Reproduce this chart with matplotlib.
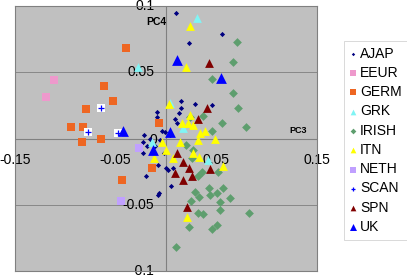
import matplotlib
matplotlib.use("Agg")
import matplotlib.pyplot as plt

# ---- data (PC3, PC4) ----
ajap_x = [0.010, 0.056, 0.023, 0.015, 0.015, 0.029, 0.046, -0.009, -0.009, 0.009, 0.013, 0.011, -0.004, -0.022,
          -0.023, -0.019, -0.023, -0.008, -0.020, 0.000, 0.002, 0.007, 0.005, -0.007, -0.008, -0.002, -0.013,
          -0.001, -0.016, 0.004, -0.011, -0.006]
ajap_y = [0.095, 0.079, 0.072, 0.028, 0.023, 0.026, 0.025, 0.020, 0.016, 0.015, 0.019, 0.012, 0.006, 0.003,
          -0.003, -0.006, -0.011, -0.020, -0.028, -0.022, -0.024, -0.022, -0.036, -0.041, -0.043, -0.011, -0.010,
          0.005, 0.000, 0.003, -0.006, -0.001]
eeur_x = [-0.111, -0.119]
eeur_y = [0.044, 0.031]
germ_x = [-0.040, -0.062, -0.053, -0.079, -0.094, -0.082, -0.083, -0.065, -0.044, -0.007, -0.014]
germ_y = [0.068, 0.040, 0.028, 0.022, 0.009, 0.009, -0.003, 0.000, -0.031, 0.012, -0.022]
grk_x = [0.031, -0.028, 0.004, 0.017, 0.042, -0.014]
grk_y = [0.091, 0.054, 0.027, 0.008, -0.016, -0.003]
irish_x = [0.071, 0.067, 0.046, 0.067, 0.072, 0.037, 0.056, 0.079, 0.046, 0.024, 0.020, 0.027, 0.026, 0.032,
           0.036, 0.052, 0.043, 0.057, 0.051, 0.064, 0.029, 0.033, 0.025, 0.044, 0.054, 0.054, 0.032, 0.037,
           0.082, 0.023, 0.046, 0.051, 0.010]
irish_y = [0.073, 0.058, 0.045, 0.034, 0.023, 0.017, 0.012, 0.009, 0.006, 0.016, -0.005, -0.009, -0.015, -0.028,
           -0.025, -0.025, -0.037, -0.037, -0.041, -0.045, -0.040, -0.044, -0.047, -0.043, -0.048, -0.054, -0.056,
           -0.057, -0.056, -0.067, -0.068, -0.065, -0.082]
itn_x = [0.024, 0.020, 0.003, 0.016, 0.024, 0.022, 0.027, 0.039, 0.034, 0.049, -0.004, 0.014, 0.032, 0.000,
         -0.012, 0.007, 0.027, 0.033, 0.057, 0.021]
itn_y = [0.085, 0.054, 0.026, 0.012, 0.018, 0.012, 0.010, 0.006, 0.004, 0.000, -0.003, -0.003, -0.001, -0.009,
         -0.015, -0.015, -0.011, -0.014, -0.021, -0.059]
neth_x = [-0.027, -0.045]
neth_y = [-0.007, -0.047]
scan_x = [-0.065, -0.077, -0.048]
scan_y = [0.023, 0.005, 0.004]
spn_x = [0.043, 0.041, 0.032, 0.011, 0.017, 0.023, 0.009, 0.017, 0.026, 0.044, 0.021]
spn_y = [0.057, 0.023, 0.015, -0.011, -0.018, -0.022, -0.026, -0.031, -0.028, -0.023, -0.052]
uk_x = [0.011, 0.055, -0.043, 0.004, -0.013]
uk_y = [0.059, 0.046, 0.006, 0.005, -0.009]

x_ticks = [-0.15, -0.05, 0.05, 0.15]
x_tick_labels = ["-0.15", "-0.05", "0.05", "0.15"]
y_ticks = [0.1, 0.05, -0.05, -0.1]
y_tick_labels = ["0.1", "0.05", "-0.05", "-0.1"]

W, H = 407, 277
fig = plt.figure(figsize=(W / 100, H / 100), dpi=100)
fig.patch.set_facecolor("white")
plt.rcParams['font.family'] = ['Liberation Sans', 'DejaVu Sans']

ax = fig.add_axes([15 / W, 6 / H, 302 / W, 265 / H])
ax.set_facecolor("#C0C0C0")
ax.set_xlim(-0.15, 0.15)
ax.set_ylim(-0.1, 0.1)
ax.set_xticks([])
ax.set_yticks([])
for s in ax.spines.values():
    s.set_color("#808080")
    s.set_linewidth(0.8)

for yv in [0.05, -0.05]:
    ax.axhline(yv, color="#888888", lw=0.7, zorder=1)
ax.axhline(0, color="#808080", lw=0.8, zorder=1)
ax.axvline(0, color="#808080", lw=0.8, zorder=1)

fs = 10
for xv, lab in zip(x_ticks, x_tick_labels):
    ax.text(xv, -0.0165, lab, ha="center", va="center", fontsize=fs, color="black", clip_on=False, zorder=1.5)
for yv, lab in zip(y_ticks, y_tick_labels):
    ax.text(-0.0115, yv, lab, ha="right", va="center", fontsize=fs, color="black", clip_on=False, zorder=1.5)
ax.text(-0.013, -0.001, "0", ha="center", va="center", fontsize=fs, color="black", zorder=1.5)

ax.text(-0.010, 0.088, "PC4", ha="center", va="center", fontsize=7.5, fontweight="bold", zorder=1.5)
ax.text(0.131, 0.0057, "PC3", ha="center", va="center", fontsize=6.5, fontweight="bold", zorder=1.5)

kw = dict(linewidths=0, zorder=3)
ax.scatter(ajap_x, ajap_y, marker="D", s=7, color="#000080", label="AJAP", **kw)
ax.scatter(eeur_x, eeur_y, marker="s", s=32, color="#EE99CC", label="EEUR", **kw)
ax.scatter(germ_x, germ_y, marker="s", s=32, color="#EE6622", label="GERM", **kw)
ax.scatter(grk_x, grk_y, marker="^", s=40, color="#80F4F4", label="GRK", **kw)
ax.scatter(irish_x, irish_y, marker="D", s=20, color="#5E9E6E", label="IRISH", **kw)
ax.scatter(itn_x, itn_y, marker="^", s=40, color="#FFFF00", label="ITN", **kw)
ax.scatter(neth_x, neth_y, marker="s", s=32, color="#C0A0FF", label="NETH", **kw)
ax.scatter(scan_x, scan_y, marker="s", s=32, color="white", linewidths=0, zorder=3)
ax.scatter(scan_x, scan_y, marker="+", s=22, color="#0000FF", linewidths=0.9, zorder=3, label="SCAN")
ax.scatter(spn_x, spn_y, marker="^", s=40, color="#800000", label="SPN", **kw)
ax.scatter(uk_x, uk_y, marker="^", s=60, color="#0000FF", label="UK", **kw)

leg = fig.legend(loc="upper left", bbox_to_anchor=(344 / W, 1 - 41 / H), borderaxespad=0,
                 frameon=True, fancybox=False, edgecolor="#C8C8C8", fontsize=10,
                 handlelength=0.5, handletextpad=0.25, labelspacing=0.38, borderpad=0.4,
                 markerscale=0.65, scatterpoints=1)
leg.get_frame().set_linewidth(0.6)

fig.savefig("out.png", dpi=100, facecolor="white")
